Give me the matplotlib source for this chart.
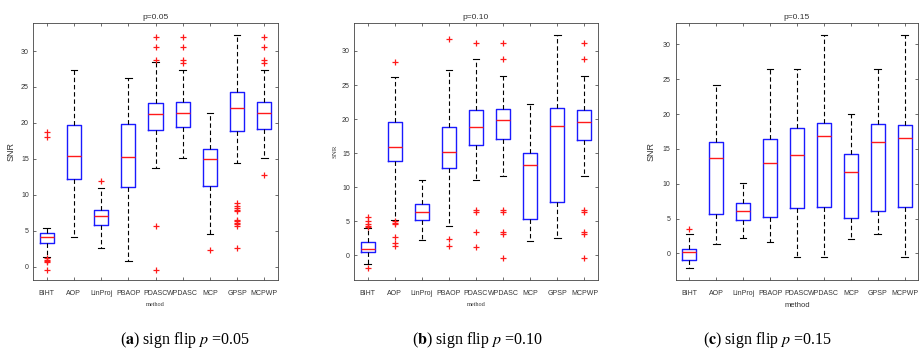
import matplotlib
matplotlib.use("Agg")
import matplotlib.pyplot as plt

methods = ["BIHT", "AOP", "LinProj", "PBAOP", "PDASC", "WPDASC", "MCP", "GPSP", "MCPWP"]

# p = 0.05
med_a = [4.2, 15.4, 7.1, 15.3, 21.3, 21.45, 14.95, 22.05, 21.45]
q1_a = [3.35, 12.2, 5.75, 11.05, 19.05, 19.4, 11.2, 18.9, 19.2]
q3_a = [4.75, 19.7, 7.9, 19.9, 22.8, 22.85, 16.35, 24.3, 22.85]
lo_a = [1.4, 4.2, 2.65, 0.85, 13.7, 15.15, 4.5, 14.45, 15.15]
hi_a = [5.45, 27.4, 10.9, 26.3, 28.5, 27.4, 21.35, 32.25, 27.4]
out_a = [[18.8, 18.0, 1.2, 1.0, 0.8, 0.6, -0.4], [], [11.9], [],
         [31.9, 30.5, 28.7, 5.7, -0.4], [31.9, 30.5, 28.7, 28.3], [2.3],
         [8.8, 8.5, 8.2, 7.9, 7.7, 6.5, 6.3, 6.1, 5.9, 5.7, 2.6],
         [31.9, 30.5, 28.7, 28.3, 12.7]]

# p = 0.10
med_b = [1.0, 15.9, 6.35, 15.25, 18.9, 19.85, 13.3, 19.0, 19.55]
q1_b = [0.55, 13.9, 5.2, 12.8, 16.2, 17.1, 5.35, 7.9, 16.9]
q3_b = [1.95, 19.65, 7.6, 18.8, 21.4, 21.55, 15.1, 21.7, 21.35]
lo_b = [-1.2, 5.25, 2.2, 4.35, 11.0, 11.6, 2.05, 2.5, 11.6]
hi_b = [4.05, 26.2, 11.1, 27.2, 28.8, 26.3, 22.2, 32.3, 26.3]
out_b = [[5.6, 5.0, 4.6, 4.3, 4.2, -1.85], [28.4, 5.0, 4.8, 4.6, 2.7, 1.9, 1.4], [],
         [31.8, 2.4, 1.4], [31.1, 6.7, 6.4, 3.45, 1.3],
         [31.1, 28.8, 6.6, 6.4, 3.4, 3.2, -0.35], [], [],
         [31.1, 28.8, 6.6, 6.4, 3.4, 3.2, -0.35]]

# p = 0.15
med_c = [0.15, 13.75, 6.05, 13.0, 14.1, 16.8, 11.65, 16.05, 16.6]
q1_c = [-1.0, 5.6, 4.75, 5.3, 6.5, 6.65, 5.1, 6.15, 6.6]
q3_c = [0.6, 16.0, 7.2, 16.35, 17.95, 18.75, 14.3, 18.55, 18.45]
lo_c = [-2.15, 1.4, 2.25, 1.7, -0.45, -0.45, 2.05, 2.8, -0.45]
hi_c = [2.75, 24.2, 10.15, 26.5, 26.5, 31.35, 19.95, 26.5, 31.35]
out_c = [[3.55], [], [], [], [], [], [], [], []]

titles = ["p=0.05", "p=0.10", "p=0.15"]
letters = ["a", "b", "c"]
pvals = ["0.05", "0.10", "0.15"]

plt.rcParams["mathtext.fontset"] = "stix"
sans = ["Liberation Sans", "DejaVu Sans"]
serif = ["Liberation Serif", "DejaVu Serif"]
txt = "#333333"

fig = plt.figure(figsize=(9.2, 3.56), dpi=100)

# axes boxes in pixels: left, right, ylim, ylabel x (px)
boxes = [(33, 278, (-1.85, 33.9), 16), (354, 598, (-3.6, 34.1), 338), (676, 918, (-3.8, 33.05), 656)]
panels = [(med_a, q1_a, q3_a, lo_a, hi_a, out_a),
          (med_b, q1_b, q3_b, lo_b, hi_b, out_b),
          (med_c, q1_c, q3_c, lo_c, hi_c, out_c)]

for i, ((l, r, ylim, ylx), (med, q1, q3, lo, hi, out)) in enumerate(zip(boxes, panels)):
    ax = fig.add_axes([l / 920, (356 - 280) / 356, (r - l) / 920, 257 / 356])
    stats = [dict(med=med[k], q1=q1[k], q3=q3[k], whislo=lo[k], whishi=hi[k],
                  fliers=out[k], label=methods[k]) for k in range(len(methods))]
    ax.bxp(stats, widths=0.52, capwidths=0.24,
           boxprops=dict(color="#1a1aff", linewidth=1.0),
           medianprops=dict(color="#ff1a1a", linewidth=1.0),
           whiskerprops=dict(color="black", linewidth=0.8, linestyle=(0, (4, 2.5))),
           capprops=dict(color="black", linewidth=0.8),
           flierprops=dict(marker="+", markeredgecolor="#ff1a1a", markersize=4, markeredgewidth=0.9))
    ax.set_xlim(0.5, 9.5)
    ax.set_ylim(*ylim)
    ax.set_yticks([0, 5, 10, 15, 20, 25, 30])
    ax.tick_params(direction="in", top=True, right=True, length=2.5, width=0.5,
                   colors=txt, labelsize=5)
    ax.tick_params(axis="y", pad=3 if i < 2 else 4)
    ax.tick_params(axis="x", pad=7)
    for lab in ax.get_xticklabels() + ax.get_yticklabels():
        lab.set_family(sans)
    for s in ax.spines.values():
        s.set_linewidth(0.6)
        s.set_color("#444444")
    ax.set_title(titles[i], fontsize=6, color=txt, family=sans, pad=3)

    if i == 1:
        ax.set_ylabel("SNR", fontsize=5, color=txt, family=serif)
        ax.set_xlabel("method", fontsize=4.5, color=txt, family=serif)
    else:
        ax.set_ylabel("SNR", fontsize=6.5, color=txt, family=sans)
        if i == 0:
            ax.set_xlabel("method", fontsize=4.5, color=txt, family=serif)
        else:
            ax.set_xlabel("method", fontsize=5.5, color=txt, family=sans)
    ax.yaxis.set_label_coords((ylx - l) / (r - l), 0.5)
    ax.xaxis.set_label_coords(0.5, -(302 - 280) / 257)

# captions
for cx, let, pv in zip([185, 477, 768], letters, pvals):
    fig.text(cx / 920, 1 - 340 / 356, r"($\mathbf{%s}$) sign flip $p$ =%s" % (let, pv),
             ha="center", va="center", fontsize=11.5, family=serif, color="black")

fig.savefig("out.png", dpi=100)
